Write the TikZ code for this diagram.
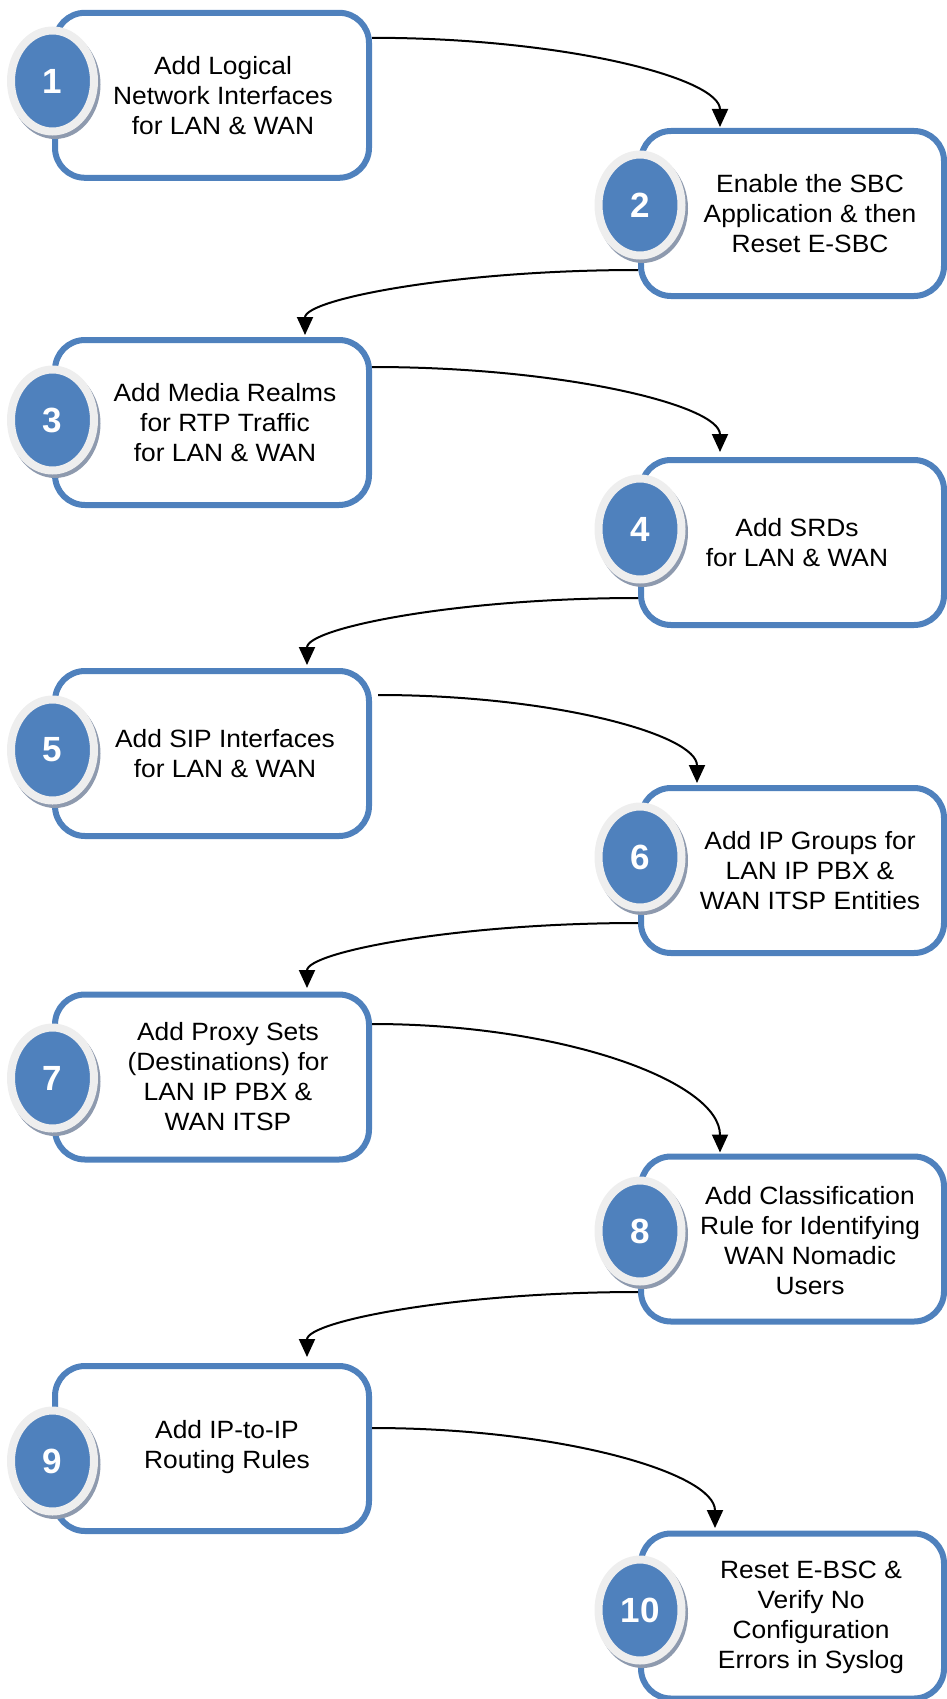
\documentclass[tikz,border=0pt]{standalone}
\usepackage{fontspec}
\setmainfont{Liberation Sans}
\newfontfamily\boxfont{Liberation Sans}[FakeStretch=1.055]
\usetikzlibrary{arrows.meta,calc,shapes.geometric}
\definecolor{accent}{HTML}{4F81BD}
\definecolor{ringgrey}{HTML}{EEEEEE}
\definecolor{shadowgrey}{HTML}{8E9AAE}
\tikzset{
  stepbox/.style={draw=accent, line width=6pt, rounded corners=30pt, fill=white,
    minimum height=165pt, inner sep=0pt},
  leftbox/.style={stepbox, minimum width=314pt},
  rightbox/.style={stepbox, minimum width=303pt},
  badge/.style={ellipse, draw=ringgrey, line width=8pt, fill=accent,
    minimum width=83pt, minimum height=101pt, inner sep=0pt, text=white,
    font=\fontsize{35}{35}\selectfont\bfseries},
  steptext/.style={align=center, inner sep=0pt, font=\boxfont\fontsize{25}{30}\selectfont},
  conn/.style={draw=black, line width=2pt, -{Triangle[length=18pt,width=16pt]}},
}
% quarter-ellipse connector: leaves horizontally, arrives vertically
\newcommand\bendto[2]{%
  \draw[conn] let \p1=(#1), \p2=(#2) in
    (\p1) .. controls ({\x1+0.55*(\x2-\x1)},\y1) and (\x2,{\y2+0.55*(\y1-\y2)}) .. (\p2);}
\begin{document}
\begin{tikzpicture}[x=1pt,y=1pt]
\useasboundingbox (0,0) rectangle (946,-1699);

% step boxes
\node[leftbox]  (b1)  at (212,-95.3)   {};
\node[rightbox] (b2)  at (792.5,-213.5) {};
\node[leftbox]  (b3)  at (212,-422.5)  {};
\node[rightbox] (b4)  at (792.5,-542.5) {};
\node[leftbox]  (b5)  at (212,-753.5)  {};
\node[rightbox] (b6)  at (792.5,-870.5) {};
\node[leftbox]  (b7)  at (212,-1077)   {};
\node[rightbox] (b8)  at (792.5,-1239)  {};
\node[leftbox]  (b9)  at (212,-1448.5) {};
\node[rightbox] (b10) at (792.5,-1616)  {};

% step texts
\node[steptext] (t1)  at (223,-95.3)   {Add Logical\\Network Interfaces\\for LAN \& WAN};
\node[steptext] (t2)  at (810,-213.5)  {Enable the SBC\\Application \& then\\Reset E-SBC};
\node[steptext] (t3)  at (225,-422.5)  {Add Media Realms\\for RTP Traffic\\for LAN \& WAN};
\node[steptext] (t4)  at (797,-542.5)  {Add SRDs\\for LAN \& WAN};
\node[steptext] (t5)  at (225,-753.5)  {Add SIP Interfaces\\for LAN \& WAN};
\node[steptext] (t6)  at (810,-870.5)  {Add IP Groups for\\LAN IP PBX \&\\WAN ITSP Entities};
\node[steptext] (t7)  at (228,-1077)   {Add Proxy Sets\\(Destinations) for\\LAN IP PBX \&\\WAN ITSP};
\node[steptext] (t8)  at (810,-1241)   {Add Classification\\Rule for Identifying\\WAN Nomadic\\Users};
\node[steptext] (t9)  at (227,-1447)   {Add IP-to-IP\\Routing Rules};
\node[steptext] (t10) at (811,-1617)   {Reset E-BSC \&\\Verify No\\Configuration\\Errors in Syslog};

% numbered badges with a soft drop shadow
\foreach \n/\x/\y in {1/52.5/81, 2/640/205, 3/52.5/420, 4/640/529, 5/52.5/750,
                      6/640/857, 7/52.5/1078, 8/640/1231, 9/52.5/1461, 10/640/1610} {
  \fill[shadowgrey] (\x+2.5,-\y-3.5) ellipse [x radius=45.5, y radius=54.5];
  \node[badge] (n\n) at (\x,-\y) {\n};
}

% connector end points on the boxes
\coordinate (s1) at ([yshift=-28pt]b1.north east);
\coordinate (e2) at ([xshift=82pt,yshift=1pt]b2.north west);
\coordinate (s2) at ([yshift=29pt]b2.south west);
\coordinate (e3) at ([xshift=253pt,yshift=2pt]b3.north west);
\coordinate (s3) at ([yshift=-30pt]b3.north east);
\coordinate (e4) at ([xshift=82pt,yshift=5pt]b4.north west);
\coordinate (s4) at ([yshift=30pt]b4.south west);
\coordinate (e5) at ([xshift=255pt,yshift=3pt]b5.north west);
\coordinate (s5) at ([xshift=6pt,yshift=-27pt]b5.north east);
\coordinate (e6) at ([xshift=59pt,yshift=2pt]b6.north west);
\coordinate (s6) at ([yshift=33pt]b6.south west);
\coordinate (e7) at ([xshift=255pt,yshift=3.5pt]b7.north west);
\coordinate (s7) at ([yshift=-32.5pt]b7.north east);
\coordinate (e8) at ([xshift=82pt,yshift=1pt]b8.north west);
\coordinate (s8) at ([yshift=32.5pt]b8.south west);
\coordinate (e9) at ([xshift=255pt,yshift=6pt]b9.north west);
\coordinate (s9) at ([yshift=-65pt]b9.north east);
\coordinate (e10) at ([xshift=77pt,yshift=2.5pt]b10.north west);

% connectors
\bendto{s1}{e2}
\bendto{s2}{e3}
\bendto{s3}{e4}
\bendto{s4}{e5}
\bendto{s5}{e6}
\bendto{s6}{e7}
\bendto{s7}{e8}
\bendto{s8}{e9}
\bendto{s9}{e10}
\end{tikzpicture}
\end{document}
